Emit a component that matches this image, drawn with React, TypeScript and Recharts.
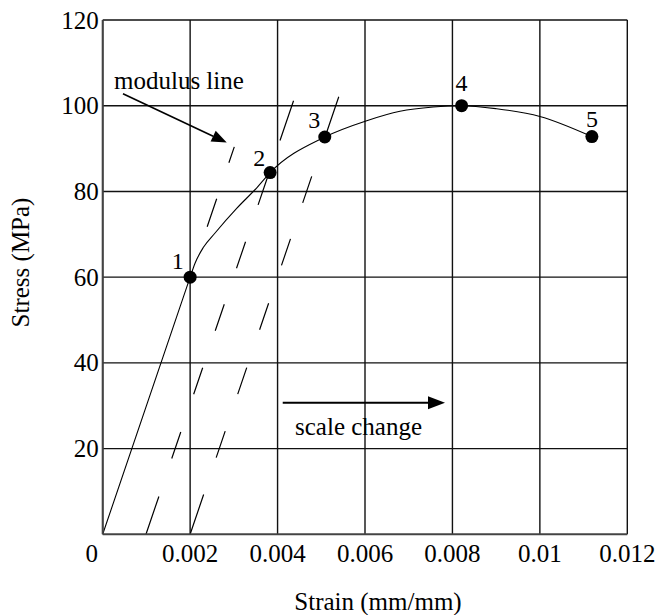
import React from 'react';
import { ComposedChart, Line, Scatter, XAxis, YAxis, CartesianGrid, ReferenceLine } from 'recharts';

// ---- data ----
const curveStrain = [0, 0.002, 0.00211, 0.0023, 0.00257, 0.00307, 0.00352, 0.00383, 0.00508, 0.00604, 0.0068, 0.00756, 0.00821, 0.00901, 0.01, 0.01119];
const curveStress = [0, 60, 63.2, 66.9, 70.3, 76.1, 80.8, 84.4, 92.7, 96.5, 98.7, 99.7, 100, 99.3, 97.5, 92.8];

const pointNames = ['1', '2', '3', '4', '5'];
const pointStrain = [0.002, 0.00383, 0.00508, 0.00821, 0.01119];
const pointStress = [60, 84.4, 92.7, 100, 92.8];

const xTicks = [0, 0.002, 0.004, 0.006, 0.008, 0.01, 0.012];
const xTickLabels = ['0', '0.002', '0.004', '0.006', '0.008', '0.01', '0.012'];
const yTicks = [20, 40, 60, 80, 100, 120];
const yTickLabels = ['20', '40', '60', '80', '100', '120'];

// dashed modulus-line extension and the two parallel offset lines
const modulusExtStrain = [0.00239, 0.00301];
const modulusExtStress = [71.75, 90.4];
const offsetAStrain = [0.00099, 0.00438];
const offsetAStress = [0, 101.6];
const offsetBStrain = [0.002, 0.0054];
const offsetBStress = [0, 102.1];

// annotation arrows
const modulusArrowStrain = [0.000464, 0.002837];
const modulusArrowStress = [102.8, 91.4];
const scaleArrowStrain = [0.004118, 0.00783];
const scaleArrowStress = [30.7, 30.7];
const annotationTexts = ['modulus line', 'scale change'];
const axisTitles = ['Strain (mm/mm)', 'Stress (MPa)'];

// ---- tables built for the library ----
const curveData = curveStrain.map((x, i) => ({ x, y: curveStress[i] }));
const pointData = pointStrain.map((x, i) => ({ x, y: pointStress[i], name: pointNames[i], idx: i }));
const seg = (xs: number[], ys: number[]) => [{ x: xs[0], y: ys[0] }, { x: xs[1], y: ys[1] }];

// ---- styles ----
const FONT = '"Liberation Serif", "Times New Roman", Times, serif';
const FS = 25;
const labelOffsets = [[-12.5, -7.7], [-11, -7], [-10.5, -9], [0, -14.7], [0, -9.4]];

const XTick = (p: any) => {
  const i = xTicks.indexOf(p.payload.value);
  const dx = p.payload.value === 0 ? -11 : 0;
  return (
    <text x={p.x + dx} y={p.y + 27.4} textAnchor="middle" fontSize={FS} fontFamily={FONT} fill="#000">
      {i >= 0 ? xTickLabels[i] : ''}
    </text>
  );
};

const YTick = (p: any) => {
  const i = yTicks.indexOf(p.payload.value);
  return (
    <text x={p.x} y={p.y + 8.5} textAnchor="end" fontSize={FS} fontFamily={FONT} fill="#000">
      {i >= 0 ? yTickLabels[i] : ''}
    </text>
  );
};

const PointShape = (p: any) => {
  const idx = p.payload?.idx ?? 0;
  const off = labelOffsets[idx];
  return (
    <g>
      <circle cx={p.cx} cy={p.cy} r={6.5} fill="#000" />
      <text x={p.cx + off[0]} y={p.cy + off[1]} textAnchor="middle" fontSize={FS - 1} fontFamily={FONT} fill="#000">
        {p.payload?.name}
      </text>
    </g>
  );
};

const makeArrow = (text: string, tdx: number, tdy: number, headLen: number, headW: number, sw: number) => (p: any) => {
  const { x1, y1, x2, y2 } = p;
  const ang = Math.atan2(y2 - y1, x2 - x1);
  const bx = x2 - headLen * Math.cos(ang);
  const by = y2 - headLen * Math.sin(ang);
  const nx = (-Math.sin(ang) * headW) / 2;
  const ny = (Math.cos(ang) * headW) / 2;
  return (
    <g>
      <line x1={x1} y1={y1} x2={bx} y2={by} stroke="#000" strokeWidth={sw} />
      <polygon points={`${x2},${y2} ${bx + nx},${by + ny} ${bx - nx},${by - ny}`} fill="#000" />
      <text x={x1 + tdx} y={y1 + tdy} textAnchor="start" fontSize={FS} fontFamily={FONT} fill="#000">
        {text}
      </text>
    </g>
  );
};

const modulusArrowShape = makeArrow(annotationTexts[0], -9, -5, 15, 12, 1.6);
const scaleArrowShape = makeArrow(annotationTexts[1], 12.3, 32.3, 17, 13, 2);

export default function App() {
  return (
    <>
      <style>{`body{margin:0;overflow:hidden} svg.recharts-surface{overflow:visible}`}</style>
      <ComposedChart width={656} height={615} margin={{ top: 20, right: 28.7, left: 8, bottom: 0 }}>
        <CartesianGrid stroke="#111" strokeWidth={1.4} horizontalValues={yTicks} verticalValues={xTicks} />
        <XAxis
          dataKey="x"
          type="number"
          domain={[0, 0.012]}
          ticks={xTicks}
          interval={0}
          height={80.7}
          tickSize={0}
          tickMargin={0}
          tickLine={false}
          axisLine={{ stroke: '#444', strokeWidth: 2 }}
          tick={<XTick />}
          allowDataOverflow
          label={{
            content: () => (
              <text x={378} y={610} textAnchor="middle" fontSize={FS} fontFamily={FONT} fill="#000">
                {axisTitles[0]}
              </text>
            ),
          }}
        />
        <YAxis
          dataKey="y"
          type="number"
          domain={[0, 120]}
          ticks={yTicks}
          interval={0}
          width={94.7}
          tickSize={0}
          tickMargin={4}
          tickLine={false}
          axisLine={{ stroke: '#444', strokeWidth: 2 }}
          tick={<YTick />}
          allowDataOverflow
          label={{
            content: () => (
              <text
                transform="translate(28.8,262.5) rotate(-90)"
                textAnchor="middle"
                fontSize={FS}
                fontFamily={FONT}
                fill="#000"
              >
                {axisTitles[1]}
              </text>
            ),
          }}
        />
        <ReferenceLine
          segment={seg(offsetAStrain, offsetAStress)}
          stroke="#000"
          strokeWidth={1.2}
          strokeDasharray="40 40 28 40 28 39 28 38 28 39 30 38 42"
        />
        <ReferenceLine
          segment={seg(offsetBStrain, offsetBStress)}
          stroke="#000"
          strokeWidth={1.2}
          strokeDasharray="42 39 28 39 28 40 28 40 28 38 28 45 40"
        />
        <ReferenceLine
          segment={seg(modulusExtStrain, modulusExtStress)}
          stroke="#000"
          strokeWidth={1.2}
          strokeDasharray="29.6 38 17"
        />
        <ReferenceLine segment={seg(modulusArrowStrain, modulusArrowStress)} shape={modulusArrowShape} />
        <ReferenceLine segment={seg(scaleArrowStrain, scaleArrowStress)} shape={scaleArrowShape} />
        <Line
          data={curveData}
          dataKey="y"
          type="monotone"
          stroke="#000"
          strokeWidth={1.1}
          dot={false}
          activeDot={false}
          isAnimationActive={false}
        />
        <Scatter data={pointData} dataKey="y" shape={<PointShape />} isAnimationActive={false} />
      </ComposedChart>
    </>
  );
}
